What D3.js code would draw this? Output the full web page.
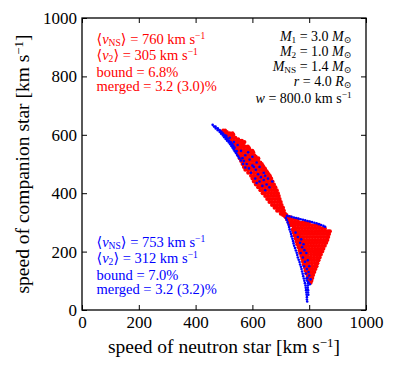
<!DOCTYPE html>
<html>
<head>
<meta charset="utf-8">
<script src="https://cdn.jsdelivr.net/npm/d3@7"></script>
<style>
  html, body { margin: 0; padding: 0; background: #fff; }
  svg { display: block; }
  text { font-family: "Liberation Serif", "DejaVu Serif", serif; }
</style>
</head>
<body>
<svg id="chart" width="395" height="369"></svg>
<script>
// ---------------- data (km/s) ----------------
const xTicks = [0, 200, 400, 600, 800, 1000];
const yTicks = [0, 200, 400, 600, 800, 1000];
const xLabel = "speed of neutron star [km s";
const yLabel = "speed of companion star [km s";

// each row: [v_companion, v_ns, v_ns, ...]
const redRows = [
  [615, 497, 504],
  [610, 492, 500, 510],
  [605, 520, 530],
  [600, 505, 515, 525, 533],
  [590, 510, 520, 530, 540],
  [585, 550],
  [580, 525, 535, 545, 555, 563],
  [575, 562, 572],
  [570, 530, 540, 550, 560, 568],
  [560, 535, 545, 555, 565, 575, 584],
  [555, 588],
  [550, 540, 550, 560, 570, 580, 590],
  [545, 600],
  [540, 545, 555, 565, 575, 585, 595, 603],
  [530, 550, 560, 570, 580, 590, 600, 607],
  [525, 612],
  [520, 555, 565, 575, 585, 595, 605, 613, 621],
  [515, 620],
  [510, 560, 570, 580, 590, 600, 610, 620],
  [505, 628],
  [500, 565, 575, 585, 595, 605, 615, 625, 633],
  [495, 636],
  [490, 570, 580, 590, 600, 610, 620, 630, 639],
  [485, 644],
  [480, 575, 585, 595, 605, 615, 625, 635, 645],
  [475, 650],
  [470, 585, 595, 605, 615, 625, 635, 645, 653],
  [465, 657],
  [460, 595, 605, 615, 625, 635, 645, 655, 661],
  [455, 663],
  [450, 600, 610, 620, 630, 640, 650, 660, 666],
  [440, 605, 615, 625, 635, 645, 655, 665, 671],
  [430, 612, 620, 630, 640, 650, 660, 670, 676],
  [420, 620, 625, 635, 645, 655, 665, 675, 681],
  [410, 628, 638, 648, 658, 668, 678, 686],
  [400, 636, 645, 655, 665, 675, 685, 690],
  [390, 645, 655, 665, 675, 685, 693],
  [380, 652, 660, 670, 680, 690, 696],
  [370, 660, 668, 678, 688, 696, 700],
  [360, 669, 677, 687, 697, 703],
  [350, 678, 686, 696, 705, 708],
  [340, 687, 695, 704, 711],
  [330, 700, 708, 715],
  [325, 708, 716, 720],
  [320, 715, 722],
  [318, 718, 726, 734],
  [310, 722, 730, 740, 750, 760],
  [300, 728, 735, 745, 755, 765, 775, 785, 795, 800],
  [290, 735, 742, 750, 760, 770, 780, 790, 800, 810, 820, 830, 836],
  [280, 745, 755, 765, 775, 785, 795, 805, 815, 825, 835, 845, 855],
  [270, 752, 760, 770, 780, 790, 800, 810, 820, 830, 840, 850, 860, 867, 873],
  [260, 759, 765, 775, 785, 795, 805, 815, 825, 835, 845, 855, 865, 870],
  [250, 766, 770, 780, 790, 800, 810, 820, 830, 840, 850, 860, 867],
  [240, 773, 782, 792, 802, 812, 822, 832, 842, 852, 860, 864],
  [230, 780, 788, 798, 808, 818, 828, 838, 848, 856, 860],
  [220, 786, 795, 805, 815, 825, 835, 845, 855],
  [210, 790, 800, 810, 820, 830, 840, 850],
  [200, 793, 802, 812, 822, 832, 840, 846],
  [190, 795, 806, 816, 826, 836, 841],
  [180, 797, 807, 817, 827, 837],
  [170, 798, 808, 818, 828, 833],
  [160, 800, 810, 820, 829],
  [150, 801, 811, 821, 826],
  [140, 803, 812, 822],
  [130, 804, 812, 818],
  [120, 806, 814],
  [110, 806, 811],
  [100, 804, 808],
  [93, 805],
  [275, 742, 748],
  [265, 745, 752],
  [255, 748, 755, 762],
  [245, 752, 760, 768],
  [235, 755, 762, 770, 776],
  [225, 758, 766, 773, 781],
  [215, 762, 770, 777, 784],
  [205, 766, 773, 781, 788],
  [195, 768, 776, 784, 790],
  [185, 772, 779, 787, 793],
  [175, 775, 783, 790],
  [165, 778, 786, 794],
  [155, 781, 789, 796],
  [145, 785, 792, 799],
  [135, 787, 795, 801],
  [125, 790, 797],
  [115, 795, 800],
  [105, 798]
];

const blueRows = [
  [634, 460],
  [628, 465, 470],
  [622, 471, 478],
  [616, 478, 485],
  [610, 485, 491],
  [604, 490, 497],
  [598, 496, 503],
  [592, 501, 508],
  [586, 506, 513],
  [580, 511, 518],
  [574, 517, 524],
  [568, 522, 529],
  [562, 526, 533],
  [556, 530, 537],
  [550, 534],
  [544, 538, 545],
  [538, 542],
  [532, 546],
  [526, 550],
  [520, 554],
  [512, 559],
  [500, 567],
  [488, 575],
  [597, 508], [590, 520], [575, 535], [565, 548], [545, 560], [540, 585],
  [530, 575], [525, 600], [520, 565], [515, 590], [505, 615], [510, 570],
  [500, 580], [495, 600], [490, 605, 625], [485, 588], [480, 612],
  [470, 595, 640], [465, 620], [460, 645], [455, 630], [450, 610, 655],
  [445, 640], [440, 625, 670], [435, 615], [430, 650], [425, 635],
  [420, 660], [410, 645],
  [323, 722], [321, 730], [319, 738], [317, 746], [315, 754], [313, 762],
  [311, 770], [309, 778], [307, 786], [305, 794], [303, 802], [301, 810],
  [299, 818], [297, 826], [294, 834], [291, 842], [288, 850], [285, 856],
  [315, 718], [308, 721], [300, 724],
  [292, 727], [284, 729], [276, 731], [268, 734],
  [260, 736], [252, 738], [244, 741], [236, 743],
  [228, 745], [220, 747], [212, 750], [204, 753],
  [196, 756], [188, 758], [180, 760], [172, 763],
  [164, 766], [156, 768], [148, 771], [140, 773],
  [132, 775], [124, 777], [116, 779],
  [108, 781, 790], [100, 783, 793], [92, 785, 796],
  [84, 787, 795], [76, 788, 795], [68, 789, 796], [60, 790, 796],
  [52, 791, 797], [44, 792], [36, 792], [29, 793],
  [265, 752], [250, 760], [242, 772], [230, 768], [225, 780], [215, 775],
  [205, 783], [195, 770, 790], [180, 778], [170, 795], [165, 785],
  [150, 782, 800], [140, 792], [130, 798], [125, 788], [118, 800],
  [110, 794], [105, 805], [95, 797], [88, 802]
];

// annotation texts (parts: t = text, i = italic, sub / sup)
const redLabels = [
  [{t:"\u27E8"},{t:"v",i:1},{t:"NS",sub:1},{t:"\u27E9 = 760 km s"},{t:"\u22121",sup:1}],
  [{t:"\u27E8"},{t:"v",i:1},{t:"2",sub:1},{t:"\u27E9 = 305 km s"},{t:"\u22121",sup:1}],
  [{t:"bound = 6.8%"}],
  [{t:"merged = 3.2 (3.0)%"}]
];
const blueLabels = [
  [{t:"\u27E8"},{t:"v",i:1},{t:"NS",sub:1},{t:"\u27E9 = 753 km s"},{t:"\u22121",sup:1}],
  [{t:"\u27E8"},{t:"v",i:1},{t:"2",sub:1},{t:"\u27E9 = 312 km s"},{t:"\u22121",sup:1}],
  [{t:"bound = 7.0%"}],
  [{t:"merged = 3.2 (3.2)%"}]
];
const paramLabels = [
  [{t:"M",i:1},{t:"1",sub:1},{t:" = 3.0 "},{t:"M",i:1},{t:"\u2299",sub:1}],
  [{t:"M",i:1},{t:"2",sub:1},{t:" = 1.0 "},{t:"M",i:1},{t:"\u2299",sub:1}],
  [{t:"M",i:1},{t:"NS",sub:1},{t:" = 1.4 "},{t:"M",i:1},{t:"\u2299",sub:1}],
  [{t:"r",i:1},{t:" = 4.0 "},{t:"R",i:1},{t:"\u2299",sub:1}],
  [{t:"w",i:1},{t:" = 800.0 km s"},{t:"\u22121",sup:1}]
];

// ---------------- drawing ----------------
const svg = d3.select("#chart");
const x = d3.scaleLinear().domain([0, 1000]).range([82, 366]);
const y = d3.scaleLinear().domain([0, 1000]).range([310, 18]);

const toPts = rows => rows.flatMap(([vy, ...xs]) => xs.map(vx => ({vx, vy})));

const plot = svg.append("g");
plot.append("g").selectAll("circle").data(toPts(redRows)).join("circle")
  .attr("cx", d => x(d.vx)).attr("cy", d => y(d.vy)).attr("r", 2.0)
  .attr("fill", "#ff0000");
plot.append("g").selectAll("circle").data(toPts(blueRows)).join("circle")
  .attr("cx", d => x(d.vx)).attr("cy", d => y(d.vy)).attr("r", 1.3)
  .attr("fill", "#0000ff");

function styleAxis(g, showText) {
  g.select(".domain").remove();
  g.selectAll(".tick line").attr("stroke", "#000").attr("stroke-width", 1);
  g.selectAll("text").attr("font-family", "Liberation Serif, serif")
    .attr("font-size", 17).attr("fill", "#000");
  if (!showText) g.selectAll("text").remove();
}
svg.append("g").attr("transform", "translate(0,310)")
  .call(d3.axisBottom(x).tickValues(xTicks).tickSize(-5).tickPadding(6).tickFormat(d3.format("d")))
  .call(g => styleAxis(g, true));
svg.append("g").attr("transform", "translate(0,18)")
  .call(d3.axisTop(x).tickValues(xTicks).tickSize(-5))
  .call(g => styleAxis(g, false));
svg.append("g").attr("transform", "translate(82,0)")
  .call(d3.axisLeft(y).tickValues(yTicks).tickSize(-5).tickPadding(5).tickFormat(d3.format("d")))
  .call(g => styleAxis(g, true));
svg.append("g").attr("transform", "translate(366,0)")
  .call(d3.axisRight(y).tickValues(yTicks).tickSize(-5))
  .call(g => styleAxis(g, false));

svg.append("rect").attr("x", 82).attr("y", 18).attr("width", 284).attr("height", 292)
  .attr("fill", "none").attr("stroke", "#000").attr("stroke-width", 1.3);

function rich(sel, px, py, parts, size, color, anchor) {
  const t = sel.append("text").attr("x", px).attr("y", py)
    .attr("font-size", size).attr("fill", color).attr("text-anchor", anchor || "start");
  let shift = 0;
  parts.forEach(p => {
    const ts = t.append("tspan").text(p.t);
    const target = p.sub ? size * 0.16 : p.sup ? -size * 0.33 : 0;
    if (target !== shift) ts.attr("dy", target - shift);
    shift = target;
    if (p.sub || p.sup) ts.attr("font-size", size * 0.66);
    if (p.i) ts.attr("font-style", "italic");
  });
  return t;
}

const redY = [43.5, 60, 76.5, 91];
redLabels.forEach((parts, i) => rich(svg, 96.5, redY[i], parts, 14.5, "#ff0000"));
const blueY = [246.5, 263, 279.5, 294];
blueLabels.forEach((parts, i) => rich(svg, 96.5, blueY[i], parts, 14.5, "#0000ff"));
const parY = [40.5, 56, 71, 85.5, 103];
paramLabels.forEach((parts, i) => rich(svg, 351.5, parY[i], parts, 14, "#000", "end"));

// axis labels
rich(svg, 224, 353, [{t: xLabel}, {t: "\u22121", sup: 1}, {t: "]"}], 19.5, "#000", "middle");
const yl = svg.append("g").attr("transform", "translate(29,164) rotate(-90)");
rich(yl, 0, 0, [{t: yLabel}, {t: "\u22121", sup: 1}, {t: "]"}], 19.5, "#000", "middle");
</script>
</body>
</html>
